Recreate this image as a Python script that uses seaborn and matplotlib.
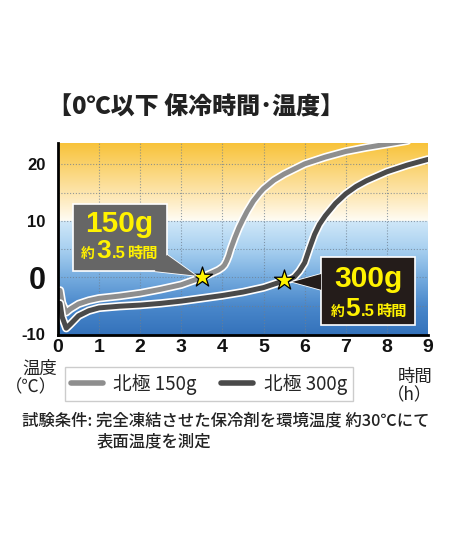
import numpy as np
import pandas as pd
import matplotlib
matplotlib.use("Agg")
import matplotlib.pyplot as plt
import matplotlib.patheffects as pe
from matplotlib.patches import Rectangle, Polygon
import seaborn as sns

# --- data ---
hours_150 = [0.05, 0.1, 0.2, 0.3, 0.5, 0.75, 1.0, 1.5, 2.0, 2.5, 3.0, 3.5, 3.75, 3.9,
             4.0, 4.05, 4.1, 4.15, 4.2, 4.3, 4.4, 4.5, 4.6, 4.75, 4.9, 5.0, 5.25, 5.5,
             6.0, 6.5, 7.0, 7.5, 8.0, 8.5]
temp_150 = [-2.3, -4.5, -6.2, -5.6, -4.7, -4.1, -3.7, -3.3, -2.8, -2.1, -1.3, 0.0, 0.8, 1.3,
            1.8, 2.2, 2.9, 3.8, 5.0, 7.0, 8.8, 10.3, 11.7, 13.5, 14.9, 15.7, 17.2, 18.3,
            20.1, 21.3, 22.3, 23.0, 23.6, 24.2]

hours_300 = [0.05, 0.1, 0.2, 0.3, 0.5, 0.75, 1.0, 1.5, 2.0, 2.5, 3.0, 3.5, 4.0, 4.5,
             5.0, 5.5, 5.65, 5.75, 5.87, 6.0, 6.12, 6.24, 6.36, 6.5, 6.75, 7.0, 7.25,
             7.5, 8.0, 8.5, 9.0]
temp_300 = [-4.6, -7.0, -9.0, -8.3, -6.8, -5.9, -5.4, -5.1, -4.9, -4.6, -4.2, -3.7, -3.2, -2.6,
            -1.8, -0.6, -0.3, 0.1, 1.1, 2.6, 5.2, 7.6, 9.4, 10.9, 13.1, 14.8, 16.1,
            17.1, 18.7, 19.9, 20.9]

series_names = ["北極 150g", "北極 300g"]
series_colors = ["#8e8e8e", "#4a4a4a"]
star_hours = [3.5, 5.5]
star_temps = [0.0, -0.5]
box_weights = ["150g", "300g"]
box_hours = ["3", "5"]
x_ticks = list(range(10))
y_ticks = [-10, 0, 10, 20]

W, H = 454, 544
CJK = ["Noto Sans CJK JP", "DejaVu Sans"]
LATIN = ["Liberation Sans", "DejaVu Sans"]

df = pd.concat([
    pd.DataFrame({"時間": hours_150, "温度": temp_150, "series": series_names[0]}),
    pd.DataFrame({"時間": hours_300, "温度": temp_300, "series": series_names[1]}),
])

sns.set_theme(style="white")
plt.rcParams["font.family"] = CJK

fig = plt.figure(figsize=(W / 100, H / 100), dpi=100)
ax = fig.add_axes([58 / W, 1 - 335 / H, (428 - 58) / W, (335 - 143) / H])
ymin, ymax = -10.2, 23.8
ax.set_xlim(0, 9)
ax.set_ylim(ymin, ymax)

# background gradient (orange above 10, blue below)
ys = np.linspace(ymax, ymin, 400)
stops_y = [ymax, 15, 10.05, 9.95, 5, 0, -5, ymin]
stops_c = ["#f8c33a", "#fde5ad", "#fffcf4", "#cfe7f8", "#a8d0f0", "#76acdf", "#4a88cb", "#3472bb"]
rgb = np.array([matplotlib.colors.to_rgb(c) for c in stops_c])
img = np.stack([np.interp(-ys, [-s for s in stops_y], rgb[:, k]) for k in range(3)], axis=1)
ax.imshow(img[:, None, :], extent=[0, 9, ymin, ymax], aspect="auto", zorder=0)

for xv in range(1, 9):
    ax.axvline(xv, color="#6f7f8f", lw=0.8, ls=(0, (1, 1.6)), alpha=0.75, zorder=1)
for yv in [-5, 0, 5, 10, 15, 20]:
    ax.axhline(yv, color="#6f7f8f", lw=0.8, ls=(0, (1, 1.6)), alpha=0.75, zorder=1)

sns.lineplot(data=df, x="時間", y="温度", hue="series", palette=series_colors,
             linewidth=3.6, legend=False, ax=ax, zorder=3, sort=False)
lines = ax.get_lines()[-2:]
for ln in lines:
    ln.set_path_effects([pe.Stroke(linewidth=6.0, foreground="white"), pe.Normal()])
    ln.set_solid_joinstyle("round")

ax.scatter(star_hours, star_temps, marker="*", s=230, color="#fff200",
           edgecolor="black", linewidth=0.9, zorder=6)


def put_pieces(xc, y, pieces):
    # lay out text pieces side by side, centred on xc (data units)
    r = fig.canvas.get_renderer()
    made = []
    for s, size, fam in pieces:
        t = ax.text(0, y, s, color="#fff200", fontsize=size, fontweight="bold",
                    family=fam, ha="left", va="baseline", zorder=9)
        made.append((t, t.get_window_extent(r).width + 1))
    total = sum(w for _, w in made)
    xd, _ = ax.transData.transform((xc, y))
    left = xd - total / 2
    for t, w in made:
        t.set_x(ax.transData.inverted().transform((left, 0))[0])
        left += w


# callout boxes
boxes = [
    dict(x0=0.37, x1=2.65, y0=1.1, y1=13.0, fc="#666666",
         tail=[(2.65, 4.0), (2.35, 1.1), (3.36, 0.3)], tx=1.50, y_top=8.0, y_bot=3.4),
    dict(x0=6.40, x1=8.69, y0=-8.4, y1=3.56, fc="#241c1a",
         tail=[(6.40, 0.6), (6.40, -2.2), (5.70, -0.8)], tx=7.56, y_top=-1.7, y_bot=-6.9),
]
for i, b in enumerate(boxes):
    ax.add_patch(Polygon(b["tail"], closed=True, fc=b["fc"], ec="white", lw=1.2, zorder=7))
    ax.add_patch(Rectangle((b["x0"], b["y0"]), b["x1"] - b["x0"], b["y1"] - b["y0"],
                           fc=b["fc"], ec="white", lw=1.2, zorder=8))
    ax.add_patch(Polygon(b["tail"], closed=True, fc=b["fc"], ec="none", zorder=8.5))
    ax.text(b["tx"], b["y_top"], box_weights[i], color="#fff200", fontsize=21.5,
            fontweight="bold", family=LATIN, ha="center", va="baseline", zorder=9)
    put_pieces(b["tx"], b["y_bot"], [("約", 10, CJK), (box_hours[i], 19, LATIN),
                                     (".5", 12, LATIN), ("時間", 11, CJK)])

ax.set_xticks(x_ticks)
ax.set_yticks(y_ticks)
ax.set_xticklabels([str(v) for v in x_ticks], fontsize=14, fontweight="bold", family=LATIN)
ax.set_yticklabels([str(v) for v in y_ticks], fontsize=12, fontweight="bold", family=LATIN)
for lab in ax.get_yticklabels():
    if lab.get_text() == "0":
        lab.set_fontsize(22)
ax.tick_params(axis="both", length=0, colors="#111111")
ax.tick_params(axis="y", pad=9)
ax.tick_params(axis="x", pad=3)
ax.set_xlabel("")
ax.set_ylabel("")
for side in ["top", "right"]:
    ax.spines[side].set_visible(False)
for side in ["left", "bottom"]:
    ax.spines[side].set_color("black")
    ax.spines[side].set_linewidth(2.0)
    ax.spines[side].set_zorder(10)

# title
fig.text(48 / W, 1 - 107 / H, "【0℃以下 保冷時間･温度】", fontsize=17.3, fontweight="black",
         ha="left", va="center", color="#222222")

# legend
leg = fig.legend(lines, series_names, loc="center", bbox_to_anchor=(209 / W, 1 - 384 / H),
                 ncol=2, frameon=True, fancybox=False, edgecolor="#c0c0c0",
                 fontsize=13.5, handlelength=1.7, columnspacing=1.3, borderpad=0.35,
                 handletextpad=0.55, borderaxespad=0)
leg.get_frame().set_linewidth(1.0)
for h in leg.legend_handles:
    h.set_path_effects([])
    h.set_linewidth(4)

fig.text(57 / W, 1 - 378 / H, "温度\n（℃）", fontsize=12.5, ha="right", va="center",
         linespacing=1.0, color="#222222")
fig.text(432 / W, 1 - 386 / H, "時間\n（h）", fontsize=12.5, ha="right", va="center",
         linespacing=1.0, color="#222222")

fig.text(22 / W, 1 - 421 / H, "試験条件: 完全凍結させた保冷剤を環境温度 約30℃にて",
         fontsize=11.8, ha="left", va="center", color="#222222", fontweight="medium")
fig.text(97 / W, 1 - 442 / H, "表面温度を測定",
         fontsize=11.8, ha="left", va="center", color="#222222", fontweight="medium")

fig.savefig("out.png", dpi=100)
